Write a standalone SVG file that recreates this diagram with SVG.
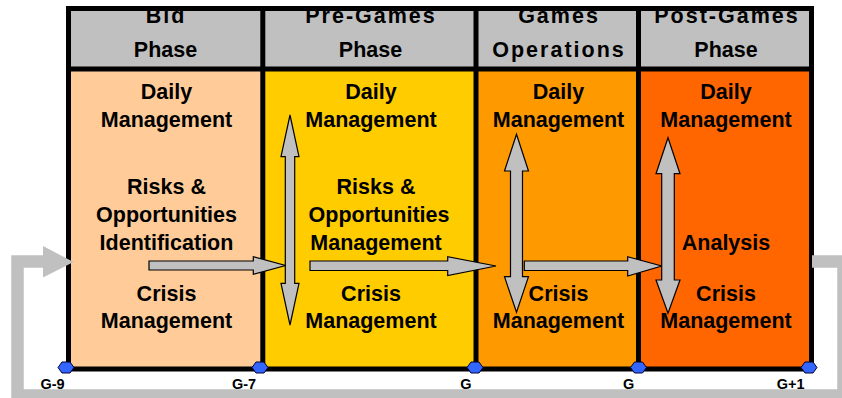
<svg xmlns="http://www.w3.org/2000/svg" width="842" height="398" viewBox="0 0 842 398">
<defs>
<style>
.t{font-family:"Liberation Sans",Arial,sans-serif;font-weight:bold;font-size:21.5px;fill:#000;text-anchor:middle}
.h{font-family:"Liberation Sans",Arial,sans-serif;font-weight:bold;font-size:21.5px;fill:#000;text-anchor:middle}
.ls{letter-spacing:2px}
.lbl{font-family:"Liberation Sans",Arial,sans-serif;font-weight:bold;font-size:14.5px;fill:#000;text-anchor:middle}
.hdr{fill:#C0C0C0}
.frame{fill:none;stroke:#000;stroke-width:5}
.arr{fill:#C0C0C0;stroke:#000;stroke-width:1.2;stroke-linejoin:miter}
.hex{fill:#3366FF;stroke:#000033;stroke-width:1}
</style>
</defs>
<rect width="842" height="398" fill="#fff"/>

<g id="bid-phase">
<rect x="68" y="8" width="195" height="61" class="hdr"/>
<rect x="68" y="69" width="195" height="300" fill="#FFCC99"/>
<text class="h ls" x="166" y="22.7">Bid</text>
<text class="h" x="165.5" y="57.3">Phase</text>
<text class="t" x="166.5" y="99">Daily</text>
<text class="t" x="166.5" y="127">Management</text>
<text class="t" x="166.5" y="194">Risks &amp;</text>
<text class="t" x="166.5" y="222">Opportunities</text>
<text class="t" x="166.5" y="250">Identification</text>
<text class="t" x="166.5" y="301">Crisis</text>
<text class="t" x="166.5" y="328">Management</text>
</g>

<g id="pre-games-phase">
<rect x="263" y="8" width="213" height="61" class="hdr"/>
<rect x="263" y="69" width="213" height="300" fill="#FFCC00"/>
<text class="h ls" x="371" y="22.7">Pre-Games</text>
<text class="h" x="370.5" y="57.3">Phase</text>
<text class="t" x="371" y="99">Daily</text>
<text class="t" x="371" y="127">Management</text>
<text class="t" x="376" y="194">Risks &amp;</text>
<text class="t" x="379" y="222">Opportunities</text>
<text class="t" x="376" y="250">Management</text>
<text class="t" x="371" y="301">Crisis</text>
<text class="t" x="371" y="328">Management</text>
</g>

<g id="games-operations">
<rect x="476" y="8" width="163" height="61" class="hdr"/>
<rect x="476" y="69" width="163" height="300" fill="#FF9900"/>
<text class="h ls" x="559" y="22.7">Games</text>
<text class="h ls" x="559" y="57.3">Operations</text>
<text class="t" x="558.5" y="99">Daily</text>
<text class="t" x="558.5" y="127">Management</text>
<text class="t" x="558.5" y="301">Crisis</text>
<text class="t" x="558.5" y="328">Management</text>
</g>

<g id="post-games-phase">
<rect x="639" y="8" width="173" height="61" class="hdr"/>
<rect x="639" y="69" width="173" height="300" fill="#FF6600"/>
<text class="h ls" x="727" y="22.7">Post-Games</text>
<text class="h" x="726" y="57.3">Phase</text>
<text class="t" x="726" y="99">Daily</text>
<text class="t" x="726" y="127">Management</text>
<text class="t" x="726" y="250">Analysis</text>
<text class="t" x="726" y="301">Crisis</text>
<text class="t" x="726" y="328">Management</text>
</g>

<g id="frame">
<rect x="68.5" y="8.5" width="743" height="360.5" class="frame"/>
<line x1="66" y1="69" x2="814" y2="69" class="frame"/>
<line x1="262.8" y1="8" x2="262.8" y2="369" class="frame"/>
<line x1="476" y1="8" x2="476" y2="369" class="frame"/>
<line x1="638.5" y1="8" x2="638.5" y2="369" class="frame"/>
</g>

<g id="connectors">
<path d="M812 261.5 H843.5 V395.5 H17.5 V261.5 H44" fill="none" stroke="#C0C0C0" stroke-width="12.5" stroke-linejoin="miter"/>
<polygon points="43,246 73.5,262 43,277.5" fill="#C0C0C0"/>
<polygon class="arr" points="149,261 253.3,261 253.3,256.7 285.5,265.5 253.3,274.3 253.3,270 149,270"/>
<polygon class="arr" points="310,261 447.7,261 447.7,256.7 496,266 447.7,275.5 447.7,270.5 310,270.5"/>
<polygon class="arr" points="524.3,261 627.7,261 627.7,256.7 661.7,266 627.7,276 627.7,270.5 524.3,270.5"/>
<polygon class="arr" points="290,115 299,156.7 294.7,156.7 294.7,283.3 299,283.3 290,325 281,283.3 285.3,283.3 285.3,156.7 281,156.7"/>
<polygon class="arr" points="516.5,134.3 528.5,171 522.5,171 522.5,276.7 528.5,276.7 516.5,312.3 504.5,276.7 510.5,276.7 510.5,171 504.5,171"/>
<polygon class="arr" points="668,137.7 680,173.7 674.3,173.7 674.3,280 680,280 668,313.3 656,280 661.7,280 661.7,173.7 656,173.7"/>
</g>

<g id="milestones">
<polygon class="hex" points="58,367.5 62,362 70,362 74,367.5 70,373 62,373"/>
<polygon class="hex" points="252,367.5 256,362 264,362 268,367.5 264,373 256,373"/>
<polygon class="hex" points="467,367.5 471,362 479,362 483,367.5 479,373 471,373"/>
<polygon class="hex" points="630.5,367.5 634.5,362 642.5,362 646.5,367.5 642.5,373 634.5,373"/>
<polygon class="hex" points="801,367.5 805,362 813,362 817,367.5 813,373 805,373"/>
<text class="lbl" x="52.5" y="389">G-9</text>
<text class="lbl" x="244" y="389">G-7</text>
<text class="lbl" x="466" y="389">G</text>
<text class="lbl" x="628.7" y="389">G</text>
<text class="lbl" x="790.7" y="389">G+1</text>
</g>
</svg>
